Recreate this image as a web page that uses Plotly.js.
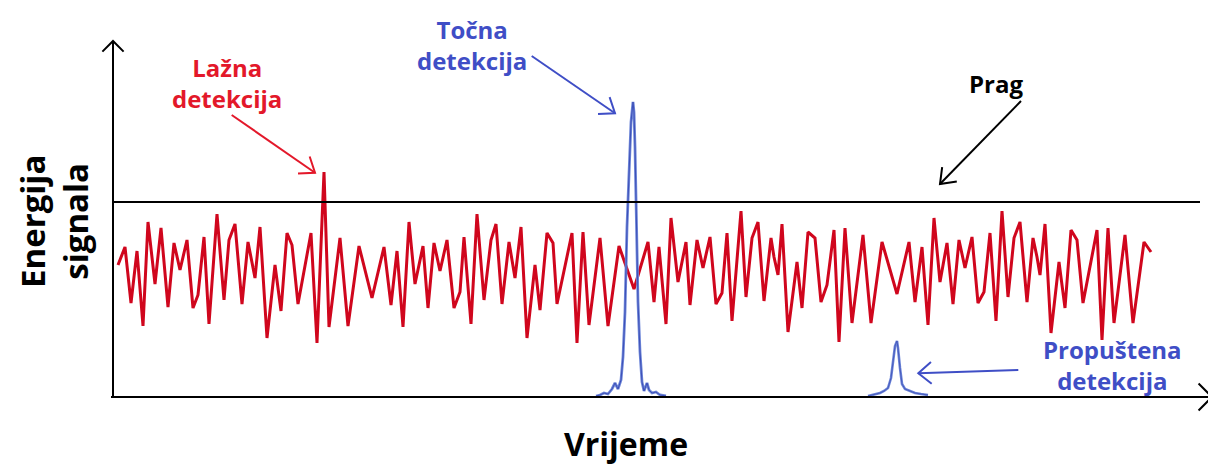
<!DOCTYPE html>
<html>
<head>
<meta charset="utf-8">
<script src="https://cdn.plot.ly/plotly-3.0.1.min.js"></script>
<style>
html,body{margin:0;padding:0;background:#ffffff;}
#chart{width:1208px;height:465px;}
</style>
</head>
<body>
<div id="chart"></div>
<script>
// ---- Data (time in samples, energy in arbitrary units) ----
const time = [5,12,18,24,30,35,42,48,55,61,67,74,80,85,91,96,104,111,116,122,129,135,142,147,154,162,168,174,179,185,198,204,211,216,227,235,246,259,271,278,284,290,296,302,310,315,321,327,334,341,347,351,358,364,371,378,383,389,396,402,408,414,422,427,434,440,444,459,464,470,476,487,495,506,521,535,541,546,553,558,565,573,577,584,590,597,603,609,614,619,628,633,639,645,651,658,661,665,669,675,684,689,695,702,708,714,721,726,732,739,750,758,769,784,796,802,809,815,821,827,834,840,846,852,859,865,871,877,883,889,895,901,907,914,920,924,927,932,938,946,952,958,964,970,984,989,995,1001,1012,1020,1031,1038];
const energy = [132,150,94,146,71,175,113,169,90,154,127,157,89,102,160,73,183,97,157,173,93,155,119,170,59,132,86,164,152,93,164,54,225,70,159,71,151,99,150,92,146,70,175,113,151,89,154,126,157,89,105,160,73,183,97,157,173,93,155,119,170,59,132,87,164,154,93,164,54,165,72,159,71,151,108,155,95,150,73,179,115,155,92,157,129,160,93,104,164,76,186,100,159,175,96,159,140,122,173,65,135,89,165,159,95,112,167,55,169,74,162,74,155,103,155,95,150,72,179,115,154,93,157,129,160,94,105,164,76,186,100,159,175,95,159,140,122,173,64,135,89,167,157,94,167,57,169,74,162,74,155,145];

const trueTime = [483,487,491,495,499,502,505,508,510,512,514,516,518,520,521,522,523,524,525,527,529,531,534,536,539,543,547,553];
const trueEnergy = [1,2,4,3,8,14,8,17,40,85,170,230,275,295,285,250,200,150,95,45,15,6,14,7,4,5,2,1];

const missTime = [755,762,767,771,775,778,780,782,784,785,787,789,792,797,802,808,815];
const missEnergy = [1,3,4,6,9,19,37,51,56,49,29,13,8,6,4,3,2];

const threshold = 195;
const thresholdSpan = [0, 1087];

const labels = {
  falseDet: 'Lažna<br>detekcija',
  trueDet: 'Točna<br>detekcija',
  thresh: 'Prag',
  missDet: 'Propuštena<br>detekcija',
  xTitle: 'Vrijeme',
  yTitle: 'Energija<br>signala'
};

// ---- Styling ----
const RED = '#d0061d', RED_DARK = '#8a0a1c', BLUE_LINE = '#6d86d8', BLUE_DARK = '#3d4fb8', BLUE_TXT = '#3f4ec6', RED_TXT = '#e3182a';
const FONT = 'Open Sans, Lato, sans-serif';

const traces = [
  {x: time, y: energy, type:'scatter', mode:'lines', line:{color:RED, width:3}, hoverinfo:'skip'},
  {x: trueTime, y: trueEnergy, type:'scatter', mode:'lines', line:{color:BLUE_LINE, width:2.8}, hoverinfo:'skip'},
  {x: trueTime, y: trueEnergy, type:'scatter', mode:'lines', line:{color:BLUE_DARK, width:1}, hoverinfo:'skip'},
  {x: missTime, y: missEnergy, type:'scatter', mode:'lines', line:{color:BLUE_LINE, width:2.6}, hoverinfo:'skip'},
  {x: missTime, y: missEnergy, type:'scatter', mode:'lines', line:{color:BLUE_DARK, width:0.8}, hoverinfo:'skip'},
  {x: thresholdSpan, y: [threshold, threshold], type:'scatter', mode:'lines', line:{color:'#000', width:2}, hoverinfo:'skip'}
];

function arrowShapes(tail, tip, color, len, angDeg, width) {
  const dx = tip[0]-tail[0], dy = tip[1]-tail[1];
  const L = Math.hypot(dx, dy);
  const ux = -dx/L, uy = -dy/L;
  const a = angDeg*Math.PI/180;
  const arm = s => [tip[0] + len*(ux*Math.cos(s*a) - uy*Math.sin(s*a)),
                    tip[1] + len*(ux*Math.sin(s*a) + uy*Math.cos(s*a))];
  const p1 = arm(1), p2 = arm(-1);
  return [
    {type:'line', xref:'x', yref:'y', x0:tail[0], y0:tail[1], x1:tip[0], y1:tip[1], line:{color:color, width:width}},
    {type:'path', xref:'x', yref:'y', path:`M${p1[0]},${p1[1]} L${tip[0]},${tip[1]} L${p2[0]},${p2[1]}`,
     line:{color:color, width:width}, fillcolor:'rgba(0,0,0,0)'}
  ];
}

const shapes = [].concat(
  arrowShapes([0,-1],[0,356],'#000',15,45,2),
  arrowShapes([-2,0],[1099,0],'#000',19,45,2),
  arrowShapes([118.7,282],[202,224.3],RED_TXT,17,37,2),
  arrowShapes([418.7,341],[502,283.7],BLUE_TXT,17,37,2),
  arrowShapes([908,296],[827,213],'#000',17,37,2),
  arrowShapes([905.3,27],[805.3,23.7],BLUE_TXT,17,40,2)
);

function txt(x, y, text, color, size, extra) {
  return Object.assign({x:x, y:y, xref:'x', yref:'y', text:'<b>'+text+'</b>', showarrow:false,
    xanchor:'center', yanchor:'middle', align:'center',
    font:{family:FONT, size:size, color:color}}, extra || {});
}

const annotations = [
  txt(114, 314, labels.falseDet, RED_TXT, 24),
  txt(359, 352, labels.trueDet, BLUE_TXT, 24),
  txt(883, 314, labels.thresh, '#000', 24),
  txt(999, 32, labels.missDet, BLUE_TXT, 24),
  txt(513, -46, labels.xTitle, '#000', 32),
  txt(-59, 175, labels.yTitle, '#000', 33, {textangle:-90})
];

const layout = {
  width:1208, height:465,
  margin:{l:0, r:0, t:0, b:0},
  paper_bgcolor:'#ffffff', plot_bgcolor:'#ffffff',
  showlegend:false,
  xaxis:{range:[-113, 1095], visible:false, fixedrange:true},
  yaxis:{range:[-68, 397], visible:false, fixedrange:true},
  shapes:shapes,
  annotations:annotations
};

Plotly.newPlot('chart', traces, layout, {displayModeBar:false, staticPlot:true});
</script>
</body>
</html>
